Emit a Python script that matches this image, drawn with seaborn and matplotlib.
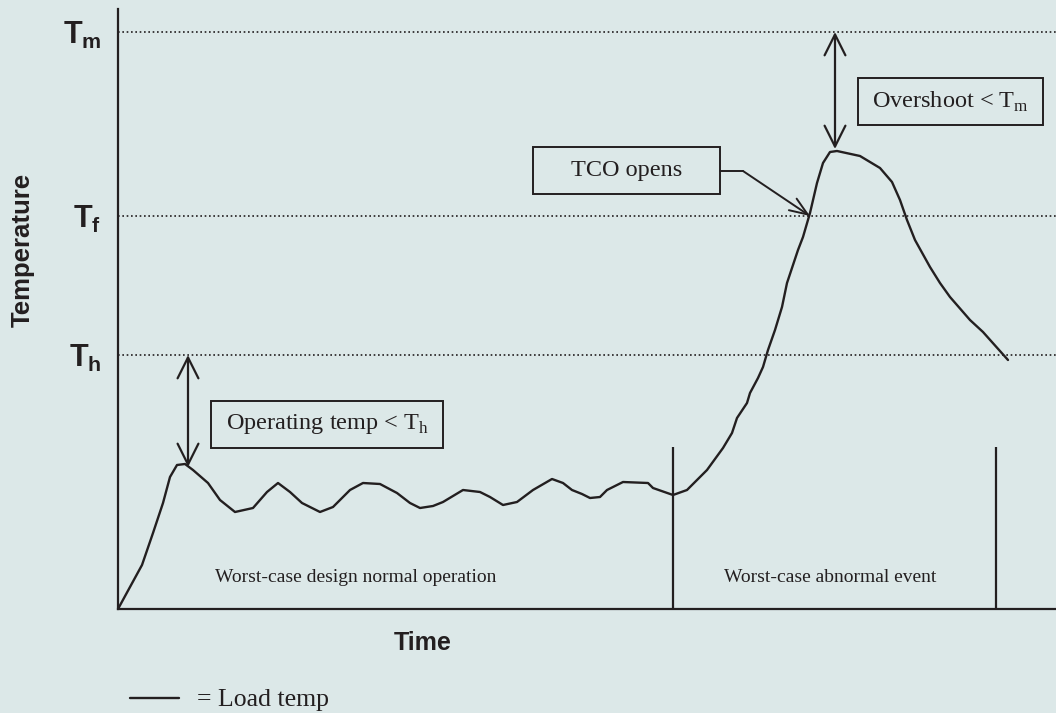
import pandas as pd
import seaborn as sns
import matplotlib.pyplot as plt
from matplotlib.patches import Rectangle

# load temperature trace (arbitrary units)
time = [0, 12, 24, 35, 45, 52, 59, 67, 75, 90,
        102, 117, 135, 149, 160, 172, 184, 202, 215, 232,
        245, 262, 279, 292, 302, 315, 325, 345, 362, 372,
        385, 399, 415, 434, 445, 454, 464, 472, 482, 489,
        505, 530, 535, 555, 569, 589, 605, 614, 619, 629,
        632, 640, 645, 650, 657, 664, 669, 680, 685, 692,
        699, 705, 712, 719, 742, 762, 774, 782, 789, 797,
        812, 822, 832, 852, 865, 890]
load_temp = [0, 22, 44, 76, 106, 132, 144, 145, 139, 126,
             109, 97, 101, 117, 126, 117, 106, 97, 102, 119,
             126, 125, 116, 106, 101, 103, 107, 119, 117, 112,
             104, 107, 119, 130, 126, 119, 115, 111, 112, 119,
             127, 126, 121, 114, 119, 139, 161, 176, 191, 206,
             216, 231, 242, 259, 279, 302, 326, 359, 372, 396,
             426, 446, 457, 458, 453, 441, 427, 409, 389, 369,
             342, 326, 312, 289, 277, 249]

levels = [254, 393, 577]
level_labels = [r"$\mathbf{T}_\mathbf{h}$", r"$\mathbf{T}_\mathbf{f}$", r"$\mathbf{T}_\mathbf{m}$"]
section_bounds = [555, 878]
section_top = 162
section_names = ["Worst-case design normal operation", "Worst-case abnormal event"]
section_centers = [238, 712]

bg = "#dce8e8"
ink = "#231f20"

sns.set_theme(style="white", rc={"figure.facecolor": bg, "axes.facecolor": bg})
plt.rcParams["font.family"] = ["Liberation Serif", "DejaVu Serif"]
plt.rcParams["mathtext.fontset"] = "custom"
plt.rcParams["mathtext.rm"] = "Liberation Serif"
plt.rcParams["mathtext.bf"] = "Liberation Sans:bold"

df = pd.DataFrame({"time": time, "temp": load_temp})

fig = plt.figure(figsize=(10.56, 7.13), dpi=100)
ax = fig.add_axes([118 / 1056, 104 / 713, 938 / 1056, 600 / 713])

sns.lineplot(data=df, x="time", y="temp", ax=ax, color=ink, lw=1.7,
             estimator=None, sort=False, label="= Load temp",
             solid_joinstyle="round", solid_capstyle="round")

ax.set_xlim(0, 938)
ax.set_ylim(0, 600)

for lv in levels:
    ax.axhline(lv, color=ink, lw=1.2, ls=(0, (1, 1.6)), zorder=1)

for b in section_bounds:
    ax.vlines(b, 0, section_top, color=ink, lw=1.6)

for name, cx in zip(section_names, section_centers):
    ax.text(cx, 32, name, ha="center", va="center", fontsize=14, color=ink)

ax.set_yticks(levels, level_labels, fontsize=22, color=ink)
ax.tick_params(axis="y", length=0, pad=12)
ax.set_xticks([])

for s in ["top", "right"]:
    ax.spines[s].set_visible(False)
for s in ["left", "bottom"]:
    ax.spines[s].set_color(ink)
    ax.spines[s].set_linewidth(1.6)

ax.set_xlabel("Time", fontsize=18, fontweight="bold", family="Liberation Sans",
              color=ink, va="center")
ax.xaxis.set_label_coords(0.325, -0.057)
ax.set_ylabel("Temperature", fontsize=18.5, fontweight="bold", family="Liberation Sans",
              color=ink, va="center")
ax.yaxis.set_label_coords(-0.102, 0.598)

# double arrows
dbl = dict(arrowstyle="<->,head_length=1.5,head_width=0.75", color=ink, lw=1.6,
           mutation_scale=10, shrinkA=0, shrinkB=0)
ax.annotate("", xy=(70, 254), xytext=(70, 142), arrowprops=dbl)
ax.annotate("", xy=(717, 577), xytext=(717, 460), arrowprops=dbl)

# label boxes
boxes = [
    (209, 184.5, 232, 47, r"Operating temp < T$_\mathrm{h}$"),
    (508.5, 438.5, 187, 47, "TCO opens"),
    (832.5, 507.5, 185, 47, r"Overshoot < T$_\mathrm{m}$"),
]
for cx, cy, w, h, txt in boxes:
    ax.add_patch(Rectangle((cx - w / 2, cy - h / 2), w, h, fill=False,
                           edgecolor=ink, lw=1.4))
    ax.text(cx, cy, txt, ha="center", va="center", fontsize=17.5, color=ink)

# TCO opens connector
ax.plot([602, 625], [438, 438], color=ink, lw=1.4)
ax.annotate("", xy=(692, 393), xytext=(625, 438),
            arrowprops=dict(arrowstyle="->,head_length=1.3,head_width=0.5",
                            color=ink, lw=1.4, mutation_scale=10,
                            shrinkA=0, shrinkB=0))

leg = ax.legend(loc="center left", bbox_to_anchor=(130 / 1056, 1 - 700 / 713),
                bbox_transform=fig.transFigure, frameon=False, fontsize=18.5,
                handlelength=1.9, handletextpad=0.7, borderpad=0, borderaxespad=0)
for t in leg.get_texts():
    t.set_color(ink)

fig.savefig("out.png", dpi=100, facecolor=bg)
